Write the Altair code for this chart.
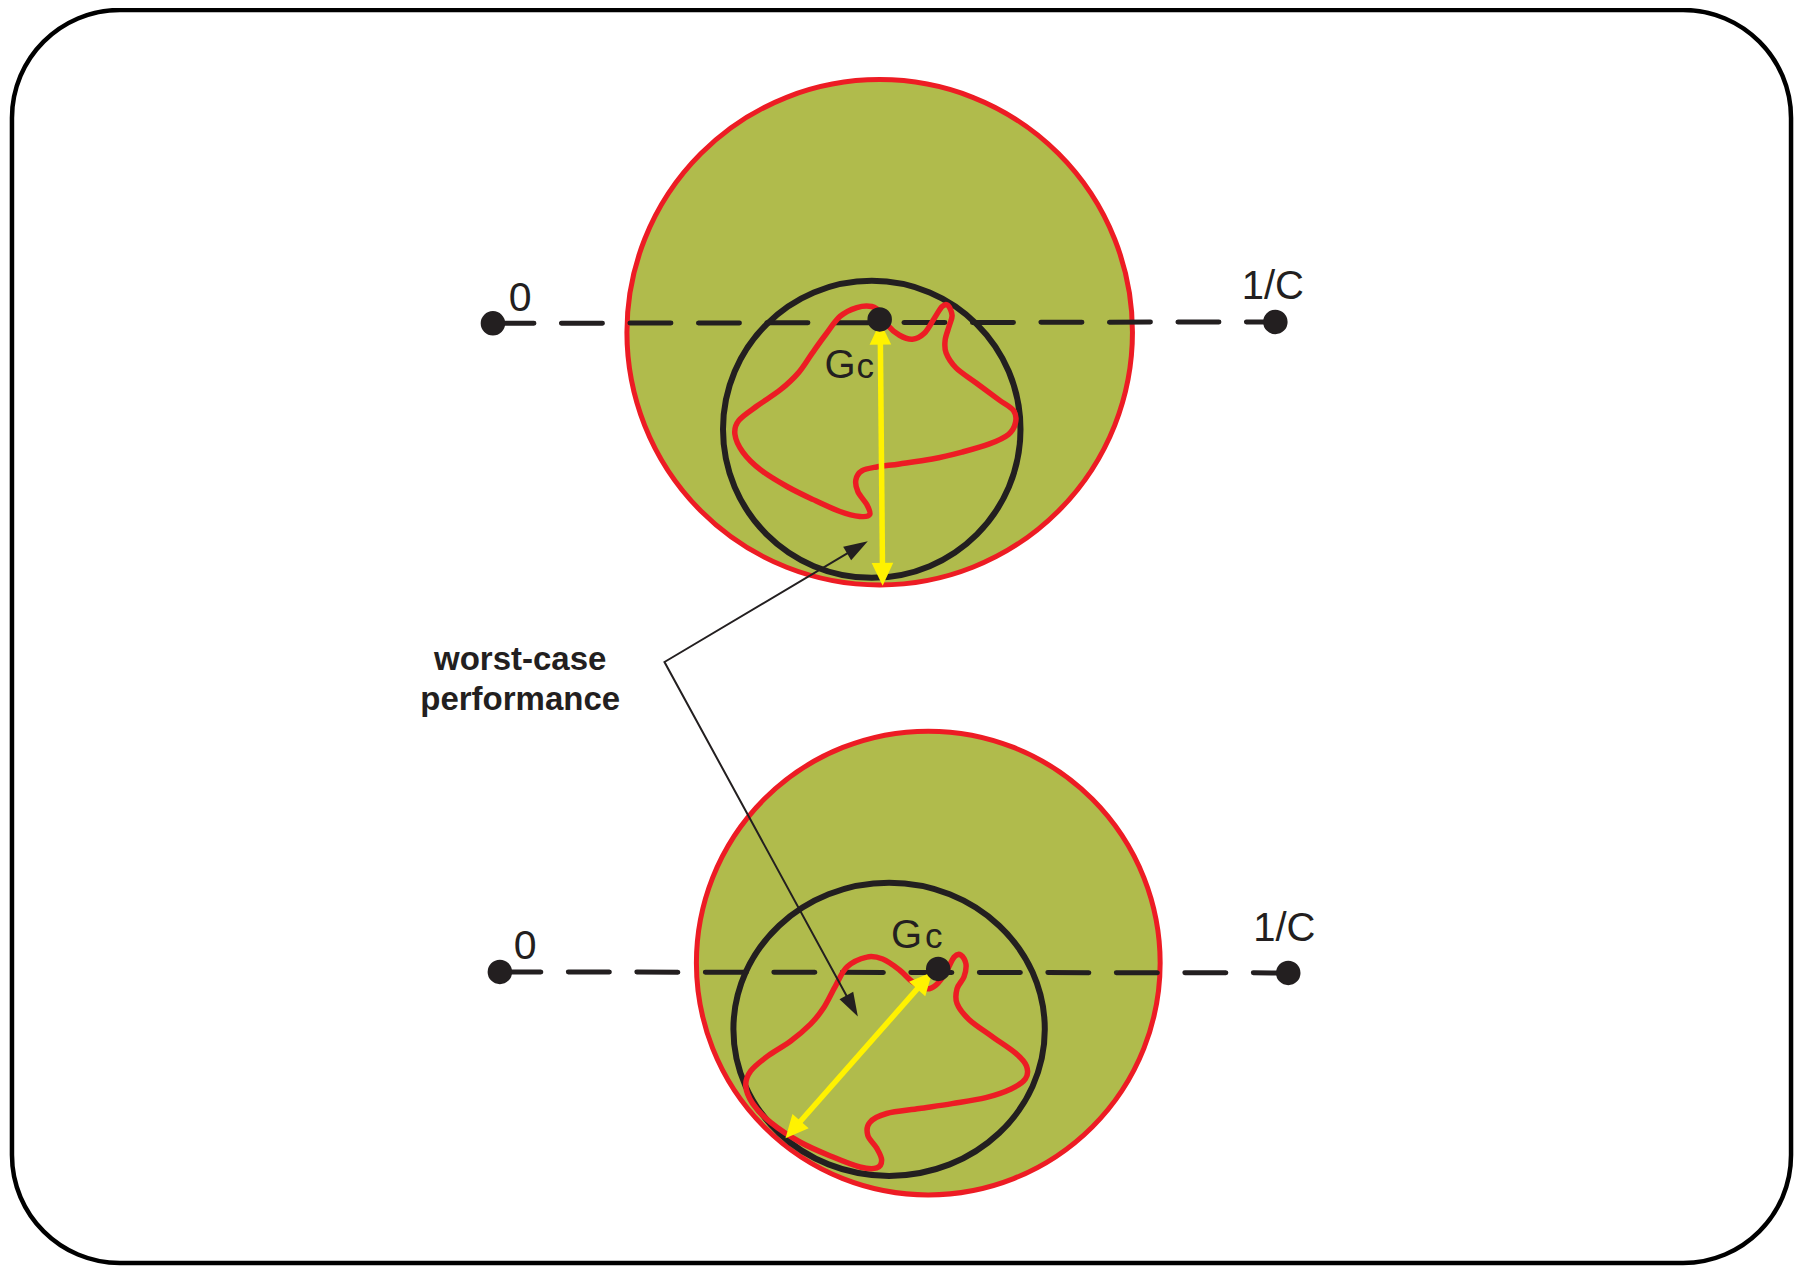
import math
import altair as alt
import pandas as pd

# ---------------- coordinate frame (reference pixels) ----------------
W, H = 1787, 1258
X_DOM = [1.0, 1803.0]
Y_DOM = [1.5, 1272.0]
KX = W / (X_DOM[1] - X_DOM[0])
KY = H / (Y_DOM[1] - Y_DOM[0])
K = (KX + KY) / 2

GREEN = "#b0bb4c"
RED = "#ed1c24"
INK = "#231f20"
YELLOW = "#fff200"
FONT = "Liberation Sans"

# ---------------- values ----------------
panel = ["top", "bottom"]

frame_x = [5.0, 1799.0]
frame_y = [3.5, 1269.0]

# big green disk (uncertainty region)
disk_cx = [880, 929]
disk_cy = [329, 966]
disk_r = [255, 234]

# black circle / ellipse
ring_cx = [872, 889.5]
ring_cy = [427, 1033]
ring_rx = [150, 157]
ring_ry = [150, 148]

# dashed segment from 0 to 1/C
seg_x0 = [490, 497]
seg_y0 = [320, 975]
seg_x1 = [1279, 1292]
seg_y1 = [318.5, 976]

# Gc point
gc_x = [880, 939]
gc_y = [316, 972]

# yellow double arrow (worst case distance)
wc_ax = [880.5, 933]
wc_ay = [318.5, 975]
wc_bx = [883, 785]
wc_by = [585, 1143]

# annotation pointer: corner and the two tips
pointer_corner = (663, 662)
pointer_tip_x = [868, 858]
pointer_tip_y = [540, 1020]

# red Nyquist-like curves
top_curve_x = [888, 900, 913, 925, 935, 943, 949, 953, 950, 946, 947, 957, 977, 1000,
               1015, 1017, 1010, 990, 963, 933, 900, 877, 862, 856, 858, 867, 870, 860,
               840, 813, 787, 760, 742, 734, 738, 757, 780, 798, 812, 825, 840, 857, 872, 882]
top_curve_y = [322, 332, 336, 330, 315, 303, 302, 312, 323, 337, 350, 365, 380, 397,
               408, 420, 432, 442, 450, 457, 462, 465, 469, 478, 490, 503, 513, 515,
               510, 498, 485, 468, 450, 432, 418, 403, 387, 370, 350, 332, 313, 304, 303, 310]

bot_curve_x = [847, 867, 883, 900, 913, 927, 937, 947, 955, 962, 967, 965, 958, 958,
               970, 993, 1017, 1028, 1027, 1013, 987, 953, 920, 887, 870, 868, 877, 882,
               877, 860, 833, 800, 770, 752, 745, 750, 767, 790, 810, 823, 835]
bot_curve_y = [970, 960, 962, 973, 985, 992, 988, 975, 960, 958, 967, 980, 992, 1007,
               1023, 1040, 1057, 1070, 1083, 1093, 1102, 1108, 1113, 1118, 1127, 1140, 1153, 1165,
               1173, 1172, 1162, 1147, 1127, 1108, 1090, 1075, 1060, 1045, 1028, 1012, 990]

# text labels
lbl_text = ["0", "1/C", "0", "1/C", "G", "c", "G", "c"]
lbl_x = [517.5, 1276.5, 522.5, 1288, 840, 865.5, 907, 934.5]
lbl_y = [308, 295, 961.5, 943.5, 375, 375, 951, 951]
lbl_size = [41, 40, 41, 40, 40, 35, 40, 35]

note_lines = ["worst-case", "performance"]
note_x = [517.5, 517.5]
note_y = [670, 710]

# ---------------- helpers ----------------
xs = alt.Scale(domain=X_DOM, nice=False, zero=False)
ys = alt.Scale(domain=Y_DOM, nice=False, zero=False, reverse=True)
rs = alt.Scale(type="linear", domain=[0, 1000], range=[0, 1000 * K], zero=True)


def X(f):
    return alt.X(f, type="quantitative", scale=xs, axis=None)


def Y(f):
    return alt.Y(f, type="quantitative", scale=ys, axis=None)


def R(f):
    return alt.Radius(f, type="quantitative", scale=rs, stack=None)


def screen_angle(tx, ty, bx, by):
    dx = (tx - bx) * KX
    dy = (ty - by) * KY
    return math.degrees(math.atan2(dx, -dy)) % 360


def pull_back(tx, ty, ox, oy, px):
    d = math.hypot((ox - tx) * KX, (oy - ty) * KY)
    f = px / d
    return tx + (ox - tx) * f, ty + (oy - ty) * f


def ellipse_path(q):
    return f"M-1,0A1,{q:.4f},0,1,1,1,0A1,{q:.4f},0,1,1,-1,0Z"


# ---------------- data tables ----------------
frame_df = pd.DataFrame({"x0": [frame_x[0]], "x1": [frame_x[1]],
                         "y0": [frame_y[0]], "y1": [frame_y[1]]})
disk_df = pd.DataFrame({"panel": panel, "cx": disk_cx, "cy": disk_cy, "r": disk_r})
ring_df = pd.DataFrame({
    "panel": panel, "cx": ring_cx, "cy": ring_cy,
    "shape": [ellipse_path((ry * KY) / (rx * KX)) for rx, ry in zip(ring_rx, ring_ry)],
    "sz": [(2 * rx * KX) ** 2 for rx in ring_rx],
})

seg_rows = []
for p, a, b, c, d in zip(panel, seg_x0, seg_y0, seg_x1, seg_y1):
    seg_rows.append({"panel": p, "i": 0, "x": a, "y": b})
    seg_rows.append({"panel": p, "i": 1, "x": c, "y": d})
seg_df = pd.DataFrame(seg_rows)

dots_df = pd.DataFrame({
    "x": seg_x0 + seg_x1 + gc_x,
    "y": seg_y0 + seg_y1 + gc_y,
})

curve_rows = []
for i, (a, b) in enumerate(zip(top_curve_x, top_curve_y)):
    curve_rows.append({"panel": "top", "i": i, "x": a, "y": b})
for i, (a, b) in enumerate(zip(bot_curve_x, bot_curve_y)):
    curve_rows.append({"panel": "bottom", "i": i, "x": a, "y": b})
curve_df = pd.DataFrame(curve_rows)

# yellow shafts + heads
YHEAD = 20
shaft_rows, yhead_rows = [], []
for p, ax, ay, bx, by in zip(panel, wc_ax, wc_ay, wc_bx, wc_by):
    sx0, sy0 = pull_back(ax, ay, bx, by, YHEAD)
    sx1, sy1 = pull_back(bx, by, ax, ay, YHEAD)
    shaft_rows.append({"panel": p, "x": sx0, "y": sy0, "x2": sx1, "y2": sy1})
    yhead_rows.append({"x": ax, "y": ay, "ang": screen_angle(ax, ay, bx, by)})
    yhead_rows.append({"x": bx, "y": by, "ang": screen_angle(bx, by, ax, ay)})
shaft_df = pd.DataFrame(shaft_rows)
yhead_df = pd.DataFrame(yhead_rows)

# black pointer
BHEAD = 20
cx0, cy0 = pointer_corner
pt_top = pull_back(pointer_tip_x[0], pointer_tip_y[0], cx0, cy0, BHEAD)
pt_bot = pull_back(pointer_tip_x[1], pointer_tip_y[1], cx0, cy0, BHEAD)
pointer_df = pd.DataFrame({"i": [0, 1, 2],
                           "x": [pt_top[0], cx0, pt_bot[0]],
                           "y": [pt_top[1], cy0, pt_bot[1]]})
bhead_df = pd.DataFrame({
    "x": pointer_tip_x, "y": pointer_tip_y,
    "ang": [screen_angle(tx, ty, cx0, cy0) for tx, ty in zip(pointer_tip_x, pointer_tip_y)],
})

lbl_df = pd.DataFrame({"t": lbl_text, "x": lbl_x, "y": lbl_y, "fs": lbl_size})
note_df = pd.DataFrame({"t": note_lines, "x": note_x, "y": note_y})

# ---------------- layers ----------------
frame = alt.Chart(frame_df).mark_rect(
    cornerRadius=108, fill="white", stroke="black", strokeWidth=4.5
).encode(x=X("x0"), x2=alt.X2("x1"), y=Y("y0"), y2=alt.Y2("y1"))

disks = alt.Chart(disk_df).mark_arc(
    theta=0, theta2=6.2832, fill=GREEN, stroke=RED, strokeWidth=5
).encode(x=X("cx"), y=Y("cy"), radius=R("r"))

dashed = alt.Chart(seg_df).mark_line(
    color=INK, strokeWidth=5, strokeDash=[41, 27.5], strokeCap="round"
).encode(x=X("x"), y=Y("y"), order=alt.Order("i:Q"), detail="panel:N")

rings = alt.Chart(ring_df).mark_point(
    filled=False, stroke=INK, strokeWidth=6, opacity=1
).encode(
    x=X("cx"), y=Y("cy"),
    shape=alt.Shape("shape:N", scale=None),
    size=alt.Size("sz:Q", scale=None),
)

curves = alt.Chart(curve_df).mark_line(
    color=RED, strokeWidth=5.5, interpolate="cardinal-closed"
).encode(x=X("x"), y=Y("y"), order=alt.Order("i:Q"), detail="panel:N")

pointer = alt.Chart(pointer_df).mark_line(color=INK, strokeWidth=2).encode(
    x=X("x"), y=Y("y"), order=alt.Order("i:Q"))

bheads = alt.Chart(bhead_df).mark_point(
    shape="M0,0L0.65,2L-0.65,2Z", filled=True, opacity=1, size=576, color=INK
).encode(x=X("x"), y=Y("y"), angle=alt.Angle("ang:Q", scale=None))

shafts = alt.Chart(shaft_df).mark_rule(color=YELLOW, strokeWidth=5.5).encode(
    x=X("x"), y=Y("y"), x2=alt.X2("x2"), y2=alt.Y2("y2"))

yheads = alt.Chart(yhead_df).mark_point(
    shape="M0,0L0.9,1.9L-0.9,1.9Z", filled=True, opacity=1, size=576, color=YELLOW
).encode(x=X("x"), y=Y("y"), angle=alt.Angle("ang:Q", scale=None))

dots = alt.Chart(dots_df).mark_circle(size=600, color=INK, opacity=1).encode(
    x=X("x"), y=Y("y"))

labels = alt.Chart(lbl_df).mark_text(
    align="center", baseline="alphabetic", font=FONT, color=INK
).encode(x=X("x"), y=Y("y"), text="t:N", size=alt.Size("fs:Q", scale=None))

note = alt.Chart(note_df).mark_text(
    align="center", baseline="alphabetic", font=FONT, fontWeight="bold",
    fontSize=33, color=INK
).encode(x=X("x"), y=Y("y"), text="t:N")

chart = alt.layer(
    frame, disks, dashed, rings, curves, pointer, bheads, shafts, yheads, dots,
    labels, note
).resolve_scale(shape="independent", size="independent").properties(
    width=W, height=H, autosize="none", padding=0, background="white"
).configure_view(stroke=None)

chart.save("out.html", embed_options={"renderer": "svg", "actions": False})
